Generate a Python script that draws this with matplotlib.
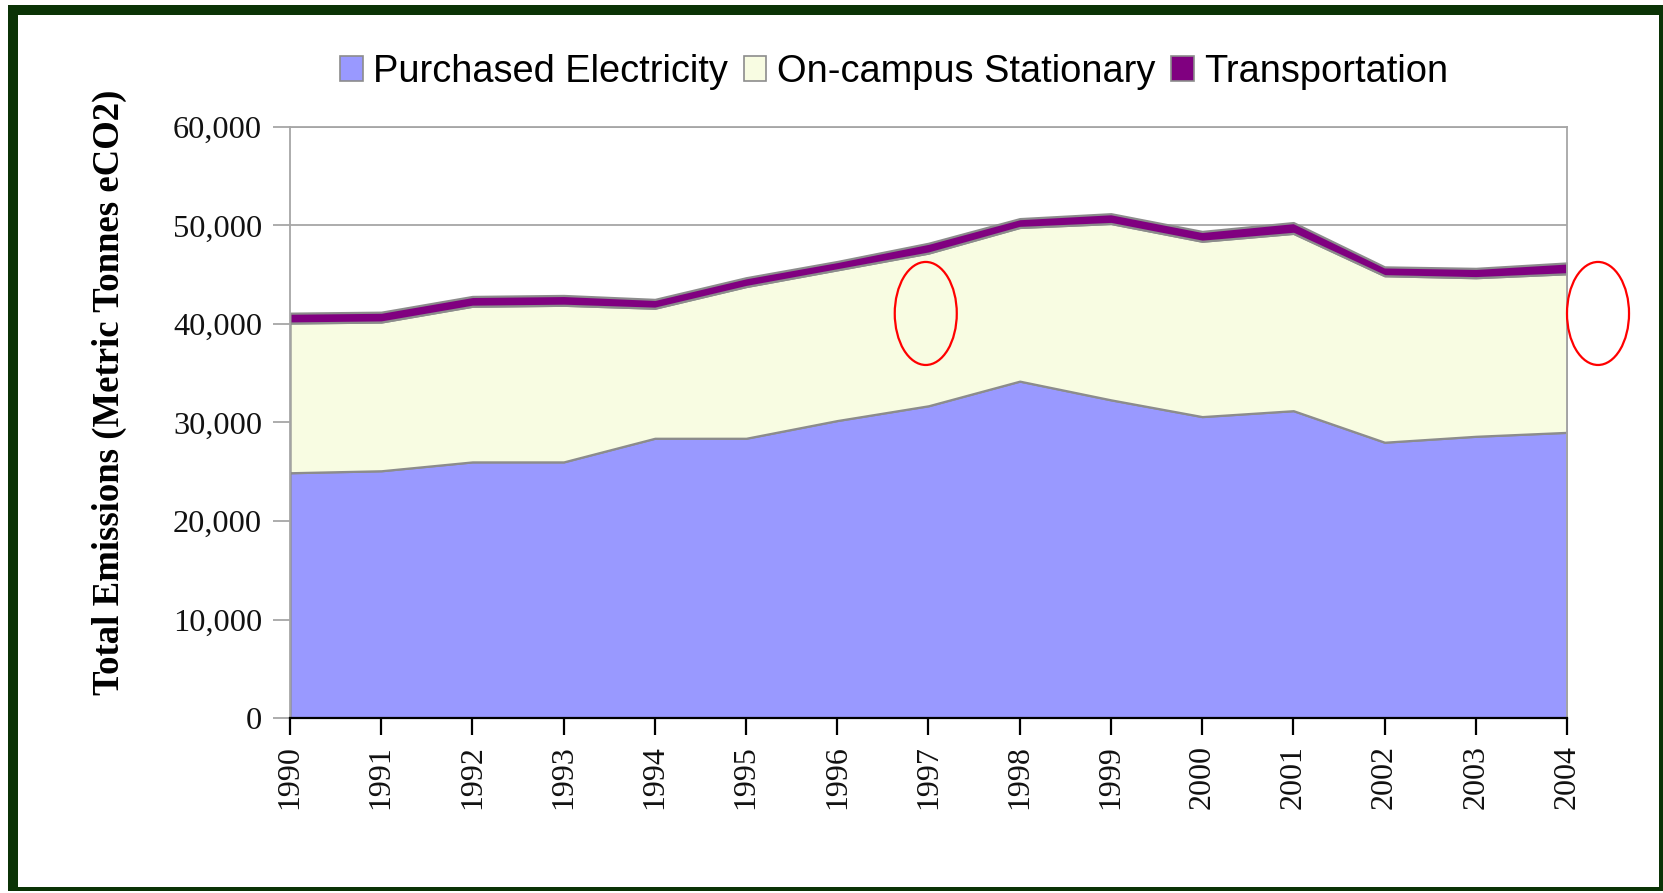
import matplotlib
matplotlib.use("Agg")
import matplotlib.pyplot as plt
from matplotlib.patches import Patch, Ellipse, Rectangle
from matplotlib.ticker import FuncFormatter, MultipleLocator

years = [1990, 1991, 1992, 1993, 1994, 1995, 1996, 1997, 1998, 1999, 2000, 2001, 2002, 2003, 2004]
purchased_electricity = [24900, 25100, 26000, 26000, 28400, 28400, 30200, 31700, 34200, 32300, 30600, 31200, 28000, 28600, 29000]
on_campus_stationary = [15200, 15100, 15800, 15900, 13200, 15400, 15300, 15500, 15600, 17900, 17800, 18000, 16900, 16100, 16100]
transportation = [1000, 1000, 1000, 1000, 900, 900, 850, 1000, 900, 1000, 1000, 1100, 900, 950, 1100]
series_labels = ["Purchased Electricity", "On-campus Stationary", "Transportation"]
y_label = "Total Emissions (Metric Tonnes eCO2)"

colors = ["#9999FF", "#F8FCE2", "#800080"]

W, H = 1663, 893
fig = plt.figure(figsize=(W / 100, H / 100), dpi=100)
fig.patch.set_facecolor("white")

def fx(px):
    return px / W

def fy(py):
    return 1 - py / H

ax = fig.add_axes([fx(290), fy(718), fx(1567) - fx(290), fy(127) - fy(718)])
ax.stackplot(years, purchased_electricity, on_campus_stationary, transportation,
             colors=colors, edgecolor="#8C8C8C", linewidth=1.6, zorder=2)

ax.set_xlim(years[0], years[-1])
ax.set_ylim(0, 60000)
ax.yaxis.set_major_locator(MultipleLocator(10000))
ax.yaxis.set_major_formatter(FuncFormatter(lambda v, p: f"{int(v):,}"))
ax.set_xticks(years)
ax.set_xticklabels([str(y) for y in years], rotation=90)

ax.yaxis.grid(True, color="#A6A6A6", linewidth=1.3, zorder=0)
ax.set_axisbelow(True)

for s in ["left", "top", "right"]:
    ax.spines[s].set_color("#A6A6A6")
    ax.spines[s].set_linewidth(1.3)
ax.spines["bottom"].set_color("black")
ax.spines["bottom"].set_linewidth(1.6)
ax.spines["bottom"].set_zorder(5)

ax.tick_params(axis="y", length=12, width=1.3, color="#A6A6A6", pad=8,
               labelsize=23.3, labelfontfamily="Liberation Serif", labelcolor="#111111")
ax.tick_params(axis="x", length=12, width=1.6, color="black", pad=7.5,
               labelsize=23, labelfontfamily="Liberation Serif", labelcolor="#111111")

# annotation ellipses
ax.add_patch(Ellipse((1996.97, 41070), 0.68, 10460, fill=False, edgecolor="red",
                     linewidth=1.6, clip_on=False, zorder=6))
ax.add_patch(Ellipse((2004.34, 41070), 0.68, 10460, fill=False, edgecolor="red",
                     linewidth=1.6, clip_on=False, zorder=6))

# y label
fig.text(fx(109), fy(392), y_label, rotation=90, ha="center", va="center",
         fontsize=26.5, fontweight="bold", family="Liberation Serif")

# legend
handles = [Patch(facecolor=c, edgecolor="#8C8C8C", linewidth=1.2) for c in colors]
fig.legend(handles, series_labels, loc="center", bbox_to_anchor=(fx(894), fy(72)),
           ncol=3, frameon=False, prop={"family": "Liberation Sans", "size": 27.4},
           handlelength=0.6, handleheight=0.65, handletextpad=0.27, columnspacing=0.42,
           borderaxespad=0, borderpad=0)

# frame border
green = "#0B3306"
fig.add_artist(Rectangle((fx(8), fy(15)), fx(1663) - fx(8), fy(5) - fy(15),
                         transform=fig.transFigure, facecolor=green, edgecolor="none"))
fig.add_artist(Rectangle((fx(8), fy(891)), fx(18) - fx(8), fy(5) - fy(891),
                         transform=fig.transFigure, facecolor=green, edgecolor="none"))
fig.add_artist(Rectangle((fx(1659), fy(891)), fx(1663) - fx(1659), fy(5) - fy(891),
                         transform=fig.transFigure, facecolor=green, edgecolor="none"))
fig.add_artist(Rectangle((fx(8), fy(891)), fx(1663) - fx(8), fy(887) - fy(891),
                         transform=fig.transFigure, facecolor=green, edgecolor="none"))

fig.savefig("out.png", dpi=100, facecolor="white")
